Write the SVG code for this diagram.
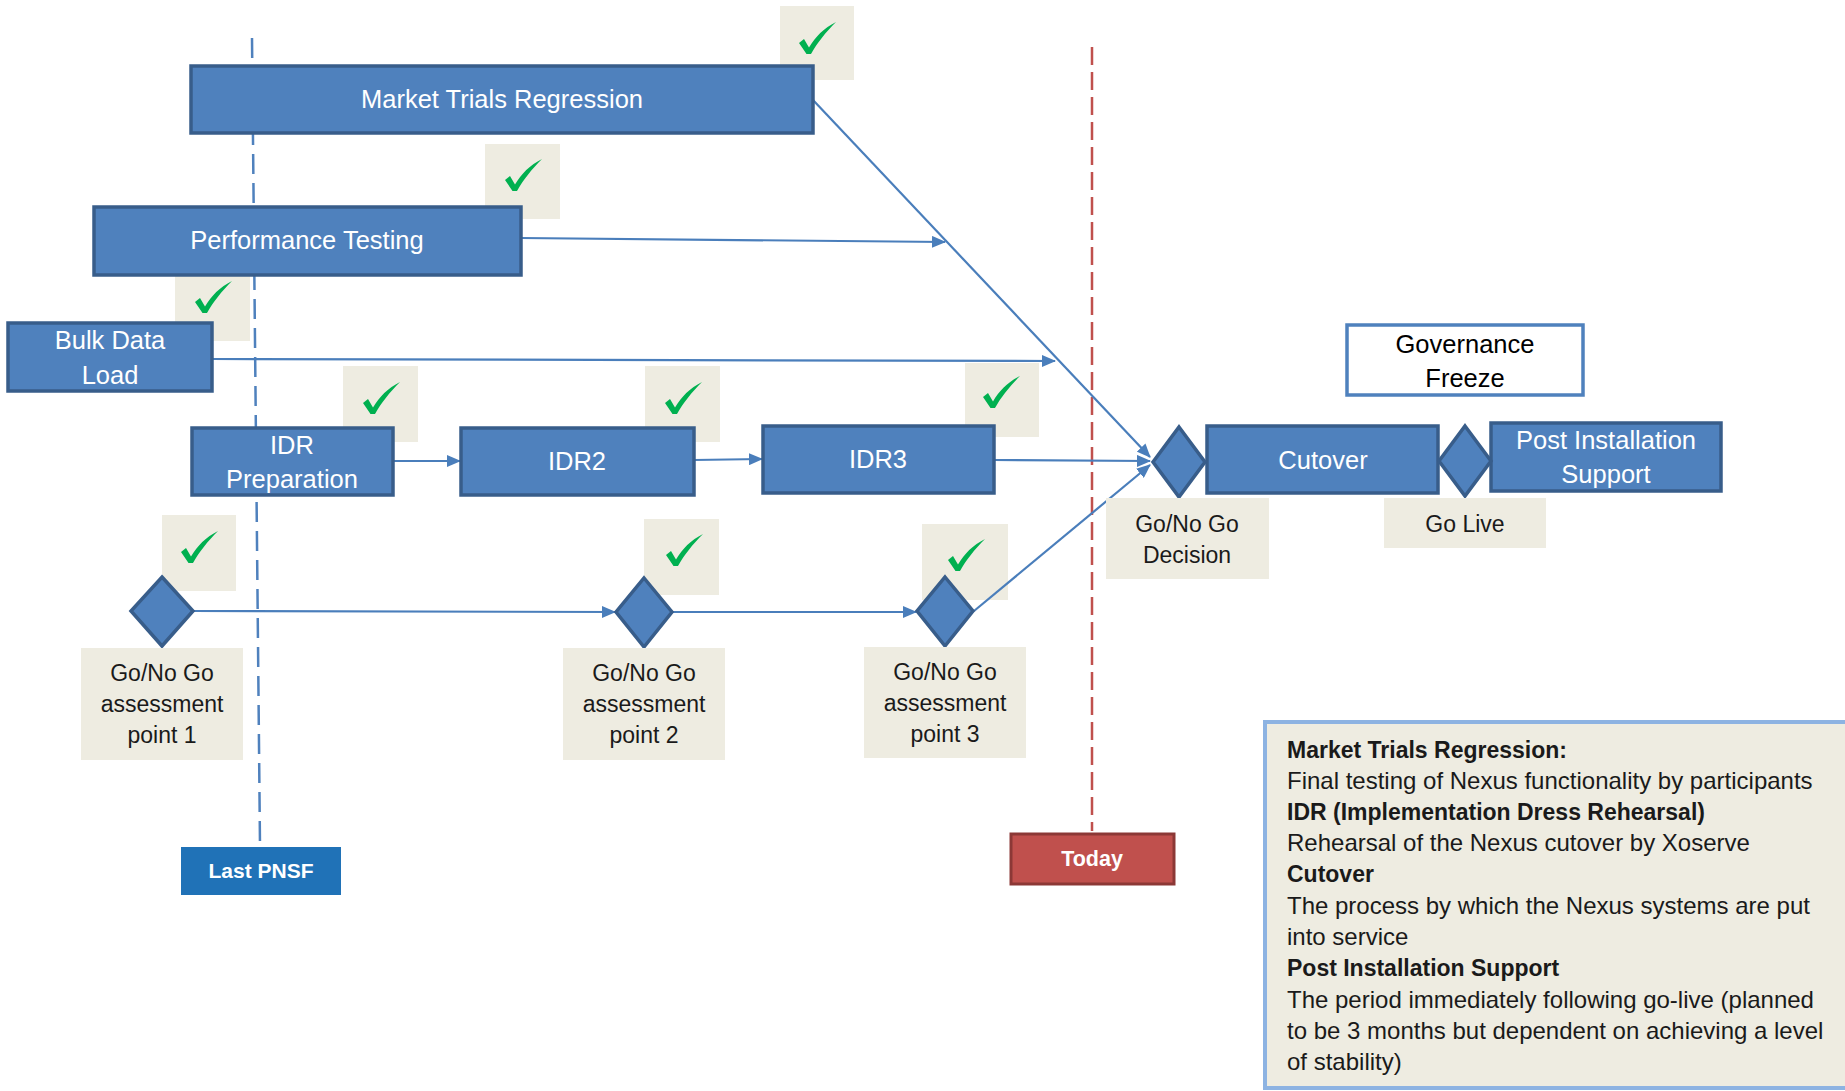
<svg xmlns="http://www.w3.org/2000/svg" width="1845" height="1091" viewBox="0 0 1845 1091">
  <style>
    .box { fill: #4F81BD; stroke: #385D8A; stroke-width: 3.5; }
    .dia { fill: #4F81BD; stroke: #385D8A; stroke-width: 3.5; stroke-linejoin: miter; }
    .lbl { fill: #FFFFFF; font-family: "Liberation Sans", Arial, sans-serif; font-size: 25.5px; text-anchor: middle; }
    .note { fill: #EEECE1; }
    .ntxt { fill: #1A1A1A; font-family: "Liberation Sans", Arial, sans-serif; font-size: 23px; text-anchor: middle; }
    .conn { fill: none; stroke: #4A7EBB; stroke-width: 2.2; marker-end: url(#arrow); }
    .leg { fill: #1A1A1A; font-family: "Liberation Sans", Arial, sans-serif; font-size: 24px; }
    .legb { font-weight: bold; font-size: 23px; }
  </style>
  <defs>
    <marker id="arrow" viewBox="0 0 14 12" refX="13" refY="6" markerWidth="14" markerHeight="12" markerUnits="userSpaceOnUse" orient="auto">
      <path d="M0,0 L14,6 L0,12 Z" fill="#4A7EBB"/>
    </marker>
    <!-- green tick, origin at its lowest point -->
    <path id="tick" d="M-10,-10 L-5,-14 L0,-5.5 C6,-16 15,-25 27,-31 C17,-21 8,-10 2,1 L-2.5,1 Z" fill="#00B050"/>
  </defs>

  <rect width="1845" height="1091" fill="#FFFFFF"/>

  <!-- time markers -->
  <g id="last-pnsf-line">
    <line x1="252" y1="38" x2="260" y2="845" stroke="#4F81BD" stroke-width="2.5" stroke-dasharray="20,9"/>
  </g>
  <g id="today-line">
    <line x1="1092" y1="47" x2="1092" y2="831" stroke="#C0504D" stroke-width="2.5" stroke-dasharray="18,7"/>
  </g>

  <!-- completion ticks -->
  <g id="ticks">
    <rect class="note" x="780" y="6" width="74" height="74"/>
    <use href="#tick" x="809" y="53"/>
    <rect class="note" x="485" y="144" width="75" height="75"/>
    <use href="#tick" x="515" y="190"/>
    <rect class="note" x="175" y="266" width="75" height="75"/>
    <use href="#tick" x="205" y="312"/>
    <rect class="note" x="343" y="366" width="75" height="76"/>
    <use href="#tick" x="373" y="413"/>
    <rect class="note" x="645" y="366" width="75" height="76"/>
    <use href="#tick" x="675" y="413"/>
    <rect class="note" x="965" y="363" width="74" height="74"/>
    <use href="#tick" x="993" y="407"/>
    <rect class="note" x="162" y="515" width="74" height="76"/>
    <use href="#tick" x="191" y="562"/>
    <rect class="note" x="644" y="519" width="75" height="76"/>
    <use href="#tick" x="676" y="565"/>
    <rect class="note" x="922" y="524" width="86" height="76"/>
    <use href="#tick" x="958" y="570"/>
  </g>

  <!-- connectors -->
  <g id="connectors">
    <line class="conn" x1="813" y1="100" x2="1150" y2="457"/>
    <line class="conn" x1="521" y1="238" x2="945" y2="242"/>
    <line class="conn" x1="212" y1="359" x2="1055" y2="361"/>
    <line class="conn" x1="393" y1="461" x2="460" y2="461"/>
    <line class="conn" x1="694" y1="460" x2="762" y2="459"/>
    <line class="conn" x1="994" y1="460" x2="1150" y2="461"/>
    <line class="conn" x1="194" y1="611" x2="615" y2="612"/>
    <line class="conn" x1="672" y1="612" x2="916" y2="612"/>
    <line class="conn" x1="974" y1="611" x2="1150" y2="465"/>
  </g>

  <!-- activities -->
  <g id="market-trials">
    <rect class="box" x="191" y="66" width="622" height="67"/>
    <text class="lbl" x="502" y="108">Market Trials Regression</text>
  </g>
  <g id="performance-testing">
    <rect class="box" x="94" y="207" width="427" height="68"/>
    <text class="lbl" x="307" y="249">Performance Testing</text>
  </g>
  <g id="bulk-data-load">
    <rect class="box" x="8" y="323" width="204" height="68"/>
    <text class="lbl" x="110" y="349">Bulk Data</text>
    <text class="lbl" x="110" y="384">Load</text>
  </g>
  <g id="idr-preparation">
    <rect class="box" x="192" y="428" width="201" height="67"/>
    <text class="lbl" x="292" y="454">IDR</text>
    <text class="lbl" x="292" y="488">Preparation</text>
  </g>
  <g id="idr2">
    <rect class="box" x="461" y="428" width="233" height="67"/>
    <text class="lbl" x="577" y="470">IDR2</text>
  </g>
  <g id="idr3">
    <rect class="box" x="763" y="426" width="231" height="67"/>
    <text class="lbl" x="878" y="468">IDR3</text>
  </g>
  <g id="cutover">
    <rect class="box" x="1207" y="426" width="231" height="67"/>
    <text class="lbl" x="1323" y="469">Cutover</text>
  </g>
  <g id="post-installation-support">
    <rect class="box" x="1491" y="423" width="230" height="68"/>
    <text class="lbl" x="1606" y="449">Post Installation</text>
    <text class="lbl" x="1606" y="483">Support</text>
  </g>
  <g id="governance-freeze">
    <rect x="1347" y="325" width="236" height="70" fill="#FFFFFF" stroke="#4F81BD" stroke-width="3.5"/>
    <text class="lbl" x="1465" y="353" style="fill:#000000">Governance</text>
    <text class="lbl" x="1465" y="387" style="fill:#000000">Freeze</text>
  </g>

  <!-- milestones -->
  <g id="go-no-go-decision">
    <polygon class="dia" points="1179,427 1205,462 1179,497 1153,462"/>
    <rect class="note" x="1106" y="498" width="163" height="81"/>
    <text class="ntxt" x="1187" y="532">Go/No Go</text>
    <text class="ntxt" x="1187" y="563">Decision</text>
  </g>
  <g id="go-live">
    <polygon class="dia" points="1465,426 1491,461 1465,496 1439,461"/>
    <rect class="note" x="1384" y="498" width="162" height="50"/>
    <text class="ntxt" x="1465" y="532">Go Live</text>
  </g>
  <g id="assessment-1">
    <polygon class="dia" points="162,577 193,611 162,646 131,611"/>
    <rect class="note" x="81" y="648" width="162" height="112"/>
    <text class="ntxt" x="162" y="681">Go/No Go</text>
    <text class="ntxt" x="162" y="712">assessment</text>
    <text class="ntxt" x="162" y="743">point 1</text>
  </g>
  <g id="assessment-2">
    <polygon class="dia" points="644,578 672,612 644,647 616,612"/>
    <rect class="note" x="563" y="648" width="162" height="112"/>
    <text class="ntxt" x="644" y="681">Go/No Go</text>
    <text class="ntxt" x="644" y="712">assessment</text>
    <text class="ntxt" x="644" y="743">point 2</text>
  </g>
  <g id="assessment-3">
    <polygon class="dia" points="945,577 973,611 945,646 917,611"/>
    <rect class="note" x="864" y="647" width="162" height="111"/>
    <text class="ntxt" x="945" y="680">Go/No Go</text>
    <text class="ntxt" x="945" y="711">assessment</text>
    <text class="ntxt" x="945" y="742">point 3</text>
  </g>

  <!-- time marker labels -->
  <g id="last-pnsf">
    <rect x="181" y="847" width="160" height="48" fill="#2072B7"/>
    <text x="261" y="878" fill="#FFFFFF" font-family="Liberation Sans, Arial, sans-serif" font-size="21" font-weight="bold" text-anchor="middle">Last PNSF</text>
  </g>
  <g id="today">
    <rect x="1011" y="834" width="163" height="50" fill="#C0504D" stroke="#8C3836" stroke-width="3"/>
    <text x="1092" y="866" fill="#FFFFFF" font-family="Liberation Sans, Arial, sans-serif" font-size="21.5" font-weight="bold" text-anchor="middle">Today</text>
  </g>

  <!-- glossary -->
  <g id="legend">
    <rect x="1265" y="722" width="585" height="366" fill="#EEECE1" stroke="#8DB3E2" stroke-width="4"/>
    <text class="leg legb" x="1287" y="758">Market Trials Regression:</text>
    <text class="leg" x="1287" y="789">Final testing of Nexus functionality by participants</text>
    <text class="leg legb" x="1287" y="820">IDR (Implementation Dress Rehearsal)</text>
    <text class="leg" x="1287" y="851">Rehearsal of the Nexus cutover by Xoserve</text>
    <text class="leg legb" x="1287" y="882">Cutover</text>
    <text class="leg" x="1287" y="914">The process by which the Nexus systems are put</text>
    <text class="leg" x="1287" y="945">into service</text>
    <text class="leg legb" x="1287" y="976">Post Installation Support</text>
    <text class="leg" x="1287" y="1008">The period immediately following go-live (planned</text>
    <text class="leg" x="1287" y="1039">to be 3 months but dependent on achieving a level</text>
    <text class="leg" x="1287" y="1070">of stability)</text>
  </g>
</svg>
